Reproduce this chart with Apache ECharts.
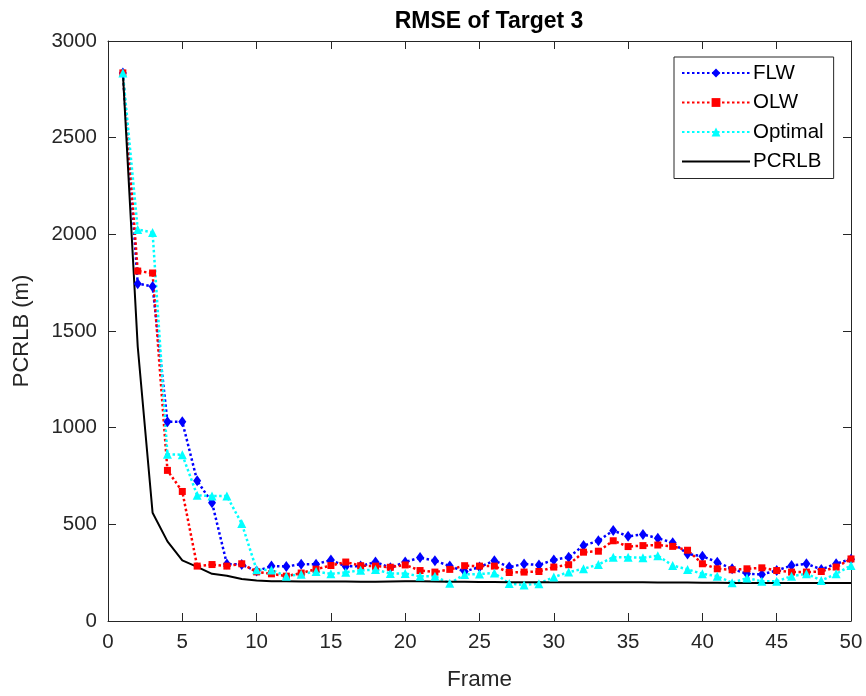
<!DOCTYPE html>
<html>
<head>
<meta charset="utf-8">
<script src="https://cdn.jsdelivr.net/npm/echarts@6/dist/echarts.min.js"></script>
<style>
  html, body { margin: 0; padding: 0; background: #fff; }
  #chart { width: 866px; height: 696px; }
</style>
</head>
<body>
<div id="chart"></div>
<script>
// Frame index and RMSE values per tracking method (metres)
const frames = Array.from({ length: 50 }, (_, i) => i + 1);

const flw = [2835, 1745, 1730, 1030, 1030, 725, 612, 295, 292, 258,
  284, 282, 294, 294, 315, 282, 284, 305, 276, 305,
  328, 312, 284, 256, 279, 312, 279, 295, 290, 316,
  330, 390, 415, 468, 438, 448, 428, 405, 347, 335,
  304, 270, 244, 241, 261, 287, 296, 267, 296, 320];

const olw = [2835, 1810, 1800, 779, 670, 284, 292, 284, 296, 254,
  244, 232, 248, 268, 287, 305, 286, 284, 278, 290,
  261, 253, 267, 286, 284, 284, 251, 253, 256, 279,
  291, 356, 361, 415, 385, 390, 393, 386, 366, 296,
  270, 265, 270, 275, 261, 253, 253, 256, 279, 321];

const optimal = [2835, 2025, 2010, 862, 860, 650, 646, 646, 504, 265,
  264, 232, 242, 256, 244, 252, 262, 266, 246, 246,
  231, 231, 195, 241, 243, 248, 194, 186, 193, 227,
  253, 270, 292, 330, 330, 327, 338, 287, 267, 244,
  232, 198, 222, 205, 205, 232, 244, 210, 244, 287];

const pcrlb = [2835, 1420, 560, 412, 314, 280, 244, 234, 217, 210,
  206, 205, 204, 204, 204, 204, 203, 203, 204, 205,
  205, 204, 203, 203, 202, 202, 201, 201, 200, 201,
  201, 200, 200, 200, 200, 200, 199, 199, 199, 198,
  198, 197, 197, 197, 196, 196, 196, 196, 196, 196];

const xTicks = [0, 5, 10, 15, 20, 25, 30, 35, 40, 45, 50];
const yTicks = [0, 500, 1000, 1500, 2000, 2500, 3000];

const FONT = '"Liberation Sans", Arial, Helvetica, sans-serif';
const AXIS_COLOR = '#262626';

const pair = (ys) => frames.map((f, i) => [f, ys[i]]);

function axisBase(extra) {
  return Object.assign({
    type: 'value',
    axisLine: { show: true, onZero: false, lineStyle: { color: AXIS_COLOR, width: 1 } },
    axisTick: { show: true, inside: true, length: 8, lineStyle: { color: AXIS_COLOR, width: 1 } },
    splitLine: { show: false },
    axisLabel: {
      color: AXIS_COLOR, fontFamily: FONT, fontSize: 20.5, margin: 11,
      formatter: (v) => String(v)
    }
  }, extra);
}

const chart = echarts.init(document.getElementById('chart'), null, { renderer: 'canvas' });

chart.setOption({
  animation: false,
  backgroundColor: '#ffffff',
  title: {
    text: 'RMSE of Target 3',
    left: 484,
    textAlign: 'center',
    top: 5,
    textStyle: { fontFamily: FONT, fontSize: 23, fontWeight: 'bold', color: '#000' }
  },
  grid: { left: 108, right: 15, top: 41, bottom: 70, containLabel: false },
  xAxis: [
    axisBase({
      position: 'bottom', min: xTicks[0], max: xTicks[xTicks.length - 1], interval: 5,
      name: 'Frame', nameLocation: 'middle', nameGap: 47,
      nameTextStyle: { fontFamily: FONT, fontSize: 22.5, color: AXIS_COLOR }
    }),
    axisBase({
      position: 'top', min: xTicks[0], max: xTicks[xTicks.length - 1], interval: 5,
      axisLabel: { show: false }
    })
  ],
  yAxis: [
    axisBase({
      position: 'left', min: yTicks[0], max: yTicks[yTicks.length - 1], interval: 500,
      name: 'PCRLB (m)', nameLocation: 'middle', nameGap: 75,
      nameTextStyle: { fontFamily: FONT, fontSize: 22, color: AXIS_COLOR }
    }),
    axisBase({
      position: 'right', min: yTicks[0], max: yTicks[yTicks.length - 1], interval: 500,
      axisLabel: { show: false }
    })
  ],
  legend: {
    orient: 'vertical',
    left: 674,
    top: 57,
    padding: [5, 10, 6, 7],
    itemGap: 7.5,
    itemWidth: 68,
    itemHeight: 11,
    backgroundColor: '#fff',
    borderColor: AXIS_COLOR,
    borderWidth: 1,
    textStyle: { fontFamily: FONT, fontSize: 20.5, color: '#000', lineHeight: 22, padding: [0, 0, 0, -2] },
    data: [
      'FLW',
      'OLW',
      'Optimal',
      { name: 'PCRLB', icon: 'path://M0,0 L100,0 L100,3 L0,3 Z', itemStyle: { color: '#000' } }
    ]
  },
  series: [
    {
      name: 'FLW', type: 'line', data: pair(flw),
      symbol: 'diamond', symbolSize: [8, 11], showSymbol: true,
      lineStyle: { color: '#0000ff', width: 2.5, type: [2.5, 2.5] },
      itemStyle: { color: '#0000ff' }
    },
    {
      name: 'OLW', type: 'line', data: pair(olw),
      symbol: 'rect', symbolSize: 7,
      lineStyle: { color: '#ff0000', width: 2.5, type: [2.5, 2.5] },
      itemStyle: { color: '#ff0000' }
    },
    {
      name: 'Optimal', type: 'line', data: pair(optimal),
      symbol: 'triangle', symbolSize: 9,
      lineStyle: { color: '#00ffff', width: 2.5, type: [2.5, 2.5] },
      itemStyle: { color: '#00ffff' }
    },
    {
      name: 'PCRLB', type: 'line', data: pair(pcrlb),
      symbol: 'none', showSymbol: false,
      lineStyle: { color: '#000000', width: 2 },
      itemStyle: { color: '#000000' }
    }
  ]
});
</script>
</body>
</html>
